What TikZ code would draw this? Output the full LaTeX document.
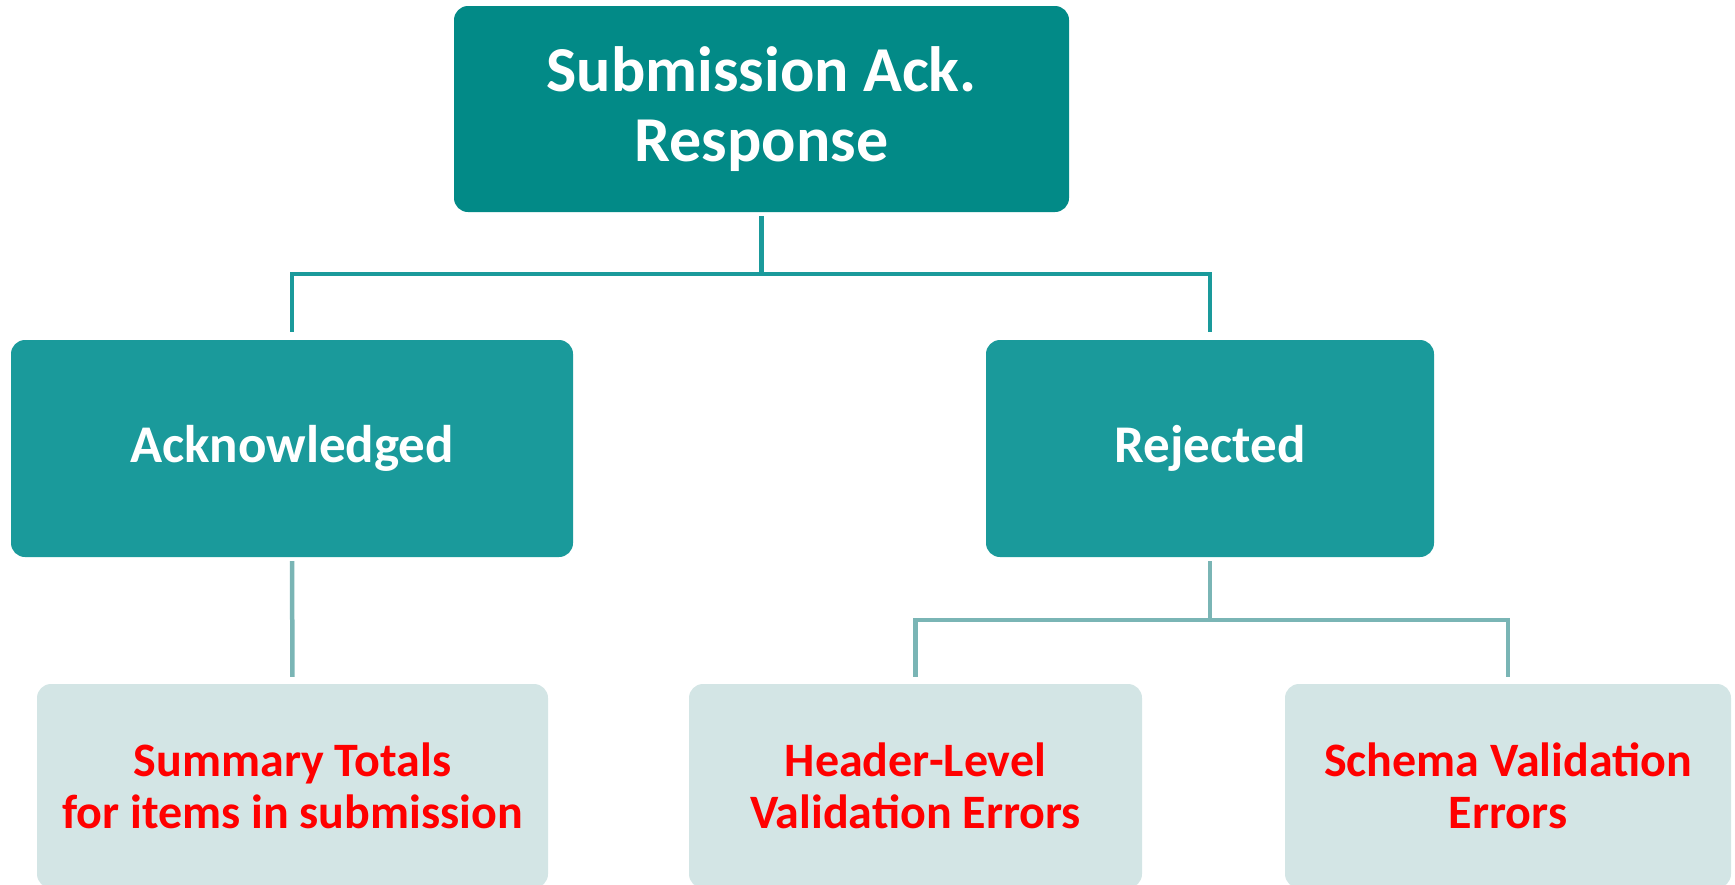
\documentclass[tikz,border=0pt]{standalone}
\usepackage{fontspec}
\setmainfont{Carlito}
\definecolor{rootfill}{HTML}{028A87}
\definecolor{midfill}{HTML}{1A9A9B}
\definecolor{leaffill}{HTML}{D3E5E5}
\definecolor{leaftext}{HTML}{FF0000}
\definecolor{linkdark}{HTML}{1A9A9B}
\definecolor{linklight}{HTML}{7AB5B5}
\tikzset{
  rootbox/.style={fill=rootfill, rounded corners=14pt, text=white, align=center,
    font=\bfseries\fontsize{64}{70}\selectfont, inner sep=0pt},
  midbox/.style={fill=midfill, rounded corners=14pt, text=white, align=center,
    font=\bfseries\fontsize{53}{60}\selectfont, inner sep=0pt, minimum height=217pt},
  leafbox/.style={fill=leaffill, rounded corners=14pt, text=leaftext, align=center,
    font=\bfseries\fontsize{48}{52}\selectfont, inner sep=0pt, minimum height=204pt},
  linkA/.style={draw=linkdark, line width=4.5pt, shorten <=4pt, shorten >=8pt},
  linkB/.style={draw=linklight, line width=4.5pt, shorten <=4pt, shorten >=7pt},
}
\begin{document}
\begin{tikzpicture}[x=1pt, y=-1pt]
  \useasboundingbox (0,0) rectangle (1735,884);
  \clip (0,0) rectangle (1735,884);

  % boxes
  \node[rootbox, minimum width=615pt, minimum height=206pt] (root) at (761.5,109)
    {Submission Ack.\\Response};
  \node[midbox, minimum width=562pt] (ack) at (292,448.5) {Acknowledged};
  \node[midbox, minimum width=448pt] (rej) at (1210,448.5) {Rejected};
  \node[leafbox, minimum width=511pt] (sum) at (292.5,786) {Summary Totals\\for items in submission};
  \node[leafbox, minimum width=453pt] (hdr) at (915.5,786) {Header-Level\\Validation Errors};
  \node[leafbox, minimum width=446pt] (sch) at (1508,786) {Schema Validation\\Errors};

  % connectors
  \draw[linkA] (root.south) -- ++(0,62) -| (ack.north);
  \draw[linkA] (root.south) -- ++(0,62) -| (rej.north);
  \draw[linkB] (ack.south) -- (sum.north);
  \draw[linkB] (rej.south) -- ++(0,63) -| (hdr.north);
  \draw[linkB] (rej.south) -- ++(0,63) -| (sch.north);
\end{tikzpicture}
\end{document}
